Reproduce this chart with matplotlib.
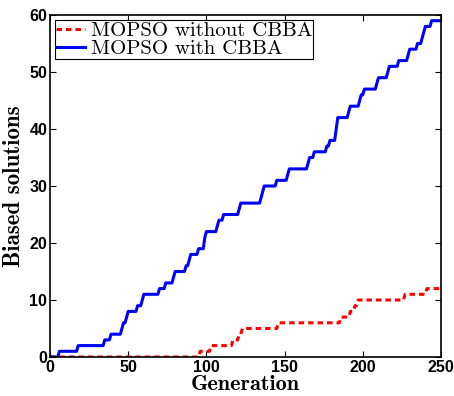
import numpy as np
import matplotlib
matplotlib.use("Agg")
import matplotlib.pyplot as plt

# Change points: (generation at which the count changes, new count)
blue_gens = [0, 6, 18, 35, 39, 46, 47, 49, 50, 56, 59, 60, 70, 74, 79, 80, 87, 89, 90,
             95, 99, 100, 107, 108, 111, 121, 122, 135, 136, 137, 145, 152, 153, 165,
             166, 169, 177, 179, 183, 184, 191, 192, 198, 199, 201, 209, 210, 216, 217,
             223, 229, 230, 235, 238, 239, 240, 244]
blue_vals = [0, 1, 2, 3, 4, 5, 6, 7, 8, 9, 10, 11, 12, 13, 14, 15, 16, 17, 18,
             19, 21, 22, 23, 24, 25, 26, 27, 28, 29, 30, 31, 32, 33, 34,
             35, 36, 37, 38, 40, 42, 43, 44, 45, 46, 47, 48, 49, 50, 51,
             52, 53, 54, 55, 56, 57, 58, 59]

red_gens = [0, 96, 103, 117, 121, 123, 146, 186, 192, 195, 197, 227, 241]
red_vals = [0, 1, 2, 3, 4, 5, 6, 7, 8, 9, 10, 11, 12]

n_gen = 250
x_ticks = [0, 50, 100, 150, 200, 250]
y_ticks = [0, 10, 20, 30, 40, 50, 60]

def expand(gens, vals):
    g = np.arange(0, n_gen + 1)
    idx = np.searchsorted(gens, g, side="right") - 1
    return g, np.asarray(vals)[idx]

gx, red = expand(red_gens, red_vals)
_, blue = expand(blue_gens, blue_vals)

fig = plt.figure(figsize=(4.54, 3.96), dpi=100)
ax = fig.add_axes([50/454, 1-357/396, (441-50)/454, (357-15)/396])

ax.plot(gx, red, color="#ff0000", lw=2.2, linestyle=(0, (1.8, 1.3)),
        label="MOPSO without CBBA")
ax.plot(gx, blue, color="#0000ff", lw=2.2, label="MOPSO with CBBA")

ax.set_xlim(0, 250)
ax.set_ylim(0, 60)
ax.set_xticks(x_ticks)
ax.set_yticks(y_ticks)
ax.tick_params(direction="in", length=4, width=0.8, top=True, right=True,
               labelsize=11.5, pad=2)
for lab in ax.get_xticklabels() + ax.get_yticklabels():
    lab.set_fontfamily("Liberation Sans")
    lab.set_fontweight("bold")
for sp in ax.spines.values():
    sp.set_linewidth(1.2)

ax.set_xlabel("Generation", family="cmb10", fontsize=16, labelpad=0)
ax.set_ylabel("Biased solutions", family="cmb10", fontsize=16.5, labelpad=3)

leg = ax.legend(loc="upper left", prop={"family": "cmr10", "size": 15},
                frameon=True, fancybox=False, edgecolor="black", framealpha=1,
                labelspacing=0.0, handlelength=1.4, handletextpad=0.25,
                borderpad=0.05, borderaxespad=0.25)
leg.get_frame().set_linewidth(0.8)

fig.savefig("out.png", dpi=100)
